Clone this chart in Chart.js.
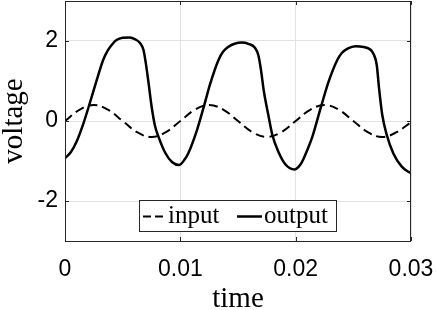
<!DOCTYPE html>
<html>
<head>
<meta charset="utf-8">
<script src="https://cdn.jsdelivr.net/npm/chart.js@4.4.1/dist/chart.umd.min.js"></script>
<style>
  html, body { margin: 0; padding: 0; background: #fff; }
  #wrap { width: 436px; height: 310px; }
</style>
</head>
<body>
<div id="wrap"><canvas id="chart" width="436" height="310"></canvas></div>
<script>
// values
const inputTime = [0, 0.00125, 0.0025, 0.00375, 0.005, 0.00625, 0.0075, 0.00875,
  0.01, 0.01125, 0.0125, 0.01375, 0.015, 0.01625, 0.0175, 0.01875,
  0.02, 0.02125, 0.0225, 0.02375, 0.025, 0.02625, 0.0275, 0.02875, 0.03];
const inputVoltage = [0, 0.28, 0.4, 0.28, 0, -0.28, -0.4, -0.28,
  0, 0.28, 0.4, 0.28, 0, -0.28, -0.4, -0.28,
  0, 0.28, 0.4, 0.28, 0, -0.28, -0.4, -0.28, -0.03];

const outputTime = [0, 0.0005, 0.001, 0.0016, 0.0021, 0.00275, 0.0033, 0.0037, 0.0041,
  0.0045, 0.005, 0.0056, 0.0061, 0.0065, 0.0068, 0.007, 0.00725, 0.0075, 0.0078,
  0.0081, 0.0087, 0.0093, 0.0099, 0.0104, 0.0107, 0.01145, 0.012, 0.0126, 0.0133,
  0.0137, 0.0142, 0.0147, 0.0153, 0.0159, 0.01647, 0.01676, 0.01697, 0.01725,
  0.01763, 0.01798, 0.0185, 0.0191, 0.0199, 0.0205, 0.0209, 0.02145, 0.0222,
  0.0229, 0.0236, 0.024, 0.0245, 0.0252, 0.0259, 0.0264, 0.02673, 0.02703,
  0.02723, 0.02751, 0.0279, 0.02847, 0.0292, 0.02977, 0.03];
const outputVoltage = [-0.93, -0.78, -0.52, -0.06, 0.4, 1.02, 1.52, 1.76, 1.92,
  2.03, 2.08, 2.09, 2.04, 1.95, 1.78, 1.46, 0.94, 0.38, -0.12,
  -0.39, -0.8, -1.03, -1.1, -0.95, -0.8, -0.22, 0.32, 0.94, 1.52,
  1.73, 1.86, 1.93, 1.96, 1.93, 1.83, 1.65, 1.32, 0.73,
  0.15, -0.35, -0.77, -1.08, -1.21, -1.05, -0.8, -0.39, 0.36,
  1.02, 1.52, 1.7, 1.81, 1.87, 1.85, 1.8, 1.69, 1.4,
  0.82, 0.15, -0.35, -0.81, -1.14, -1.27, -1.3];

const xTicks = [0, 0.01, 0.02, 0.03];
const yTicks = [-2, 0, 2];

const toPoints = (xs, ys) => xs.map((x, i) => ({ x: x, y: ys[i] }));

// box round the plot with small inward ticks, like the original
const boxPlugin = {
  id: "box",
  afterDatasetsDraw(chart) {
    const { ctx, chartArea: a, scales } = chart;
    ctx.save();
    ctx.strokeStyle = "#262626";
    ctx.lineWidth = 1;
    ctx.strokeRect(a.left + 0.5, a.top + 0.5, a.right - a.left - 1, a.bottom - a.top);
    ctx.beginPath();
    xTicks.forEach((v) => {
      const px = Math.round(scales.x.getPixelForValue(v)) + 0.5;
      ctx.moveTo(px, a.bottom); ctx.lineTo(px, a.bottom - 4);
      ctx.moveTo(px, a.top); ctx.lineTo(px, a.top + 4);
    });
    yTicks.forEach((v) => {
      const py = Math.round(scales.y.getPixelForValue(v)) + 0.5;
      ctx.moveTo(a.left, py); ctx.lineTo(a.left + 4, py);
      ctx.moveTo(a.right, py); ctx.lineTo(a.right - 4, py);
    });
    ctx.stroke();
    ctx.restore();
  },
};

// legend drawn inside the plot, bottom centre
const innerLegend = {
  id: "innerLegend",
  afterDraw(chart) {
    const { ctx } = chart;
    const ds = chart.data.datasets;
    ctx.save();
    ctx.fillStyle = "#fff";
    ctx.fillRect(139, 200, 198, 32);
    ctx.strokeStyle = "#262626";
    ctx.lineWidth = 1;
    ctx.strokeRect(139.5, 200.5, 197, 31);

    const y = 216.5;
    ctx.strokeStyle = "#000";
    ctx.lineWidth = 2;
    ctx.setLineDash([8, 4]);
    ctx.beginPath(); ctx.moveTo(143, y); ctx.lineTo(163, y); ctx.stroke();
    ctx.setLineDash([]);
    ctx.lineWidth = 2.5;
    ctx.beginPath(); ctx.moveTo(237, y); ctx.lineTo(262, y); ctx.stroke();

    ctx.fillStyle = "#000";
    ctx.font = "25px 'Liberation Serif'";
    ctx.textBaseline = "middle";
    ctx.fillText(ds[0].label, 168, y);
    ctx.fillText(ds[1].label, 264, y);
    ctx.restore();
  },
};

new Chart(document.getElementById("chart"), {
  type: "line",
  data: {
    datasets: [
      {
        label: "input",
        data: toPoints(inputTime, inputVoltage),
        borderColor: "#000",
        borderWidth: 2,
        borderDash: [9, 5],
        pointRadius: 0,
        tension: 0.4,
        fill: false,
      },
      {
        label: "output",
        data: toPoints(outputTime, outputVoltage),
        borderColor: "#000",
        borderWidth: 2.5,
        pointRadius: 0,
        cubicInterpolationMode: "monotone",
        fill: false,
      },
    ],
  },
  options: {
    responsive: false,
    animation: false,
    events: [],
    layout: { padding: { top: 1, right: 25, bottom: 0, left: 0 } },
    plugins: { legend: { display: false }, tooltip: { enabled: false } },
    scales: {
      x: {
        type: "linear",
        min: 0,
        max: 0.03,
        afterBuildTicks: (s) => { s.ticks = xTicks.map((v) => ({ value: v })); },
        afterFit: (s) => { s.height = 69; s.paddingLeft = 0; s.paddingRight = 0; },
        ticks: {
          color: "#000",
          padding: 15,
          maxRotation: 0,
          font: { family: "'Liberation Sans'", size: 23 },
          callback: (v) => String(+v.toFixed(2)),
        },
        grid: { color: "#e3e3e3", drawTicks: false },
        border: { display: false },
        title: {
          display: true,
          text: "time",
          color: "#000",
          padding: 0,
          font: { family: "'Liberation Serif'", size: 29, lineHeight: 0.7 },
        },
      },
      y: {
        min: -3,
        max: 3,
        afterBuildTicks: (s) => { s.ticks = yTicks.map((v) => ({ value: v })); },
        afterFit: (s) => { s.width = 65; s.paddingTop = 0; s.paddingBottom = 0; },
        ticks: {
          color: "#000",
          padding: 7,
          font: { family: "'Liberation Sans'", size: 23 },
          callback: (v) => String(v),
        },
        grid: { color: "#e3e3e3", drawTicks: false },
        border: { display: false },
        title: {
          display: true,
          text: "voltage",
          color: "#000",
          padding: 0,
          font: { family: "'Liberation Serif'", size: 29, lineHeight: 1 },
        },
      },
    },
  },
  plugins: [boxPlugin, innerLegend],
});
</script>
</body>
</html>
